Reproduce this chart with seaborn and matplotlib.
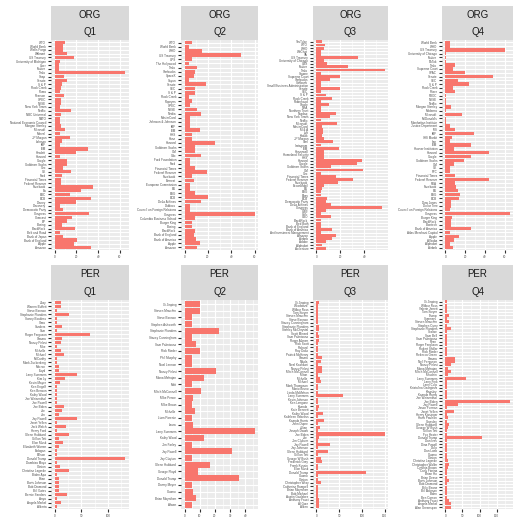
import matplotlib
matplotlib.use("Agg")
import matplotlib.pyplot as plt
from matplotlib.patches import Rectangle
from matplotlib.ticker import FixedLocator
import seaborn as sns
import pandas as pd

# ---------------- data (top-to-bottom order as shown) ----------------
org_q1_names = ["WTO", "World Bank", "Wells Fargo", "Walmart", "US Treasury", "University of Michigan",
                "Uber", "Twitter", "Tesla", "Snap", "Senate", "S & P", "Rock Creek", "Puma", "Pearson",
                "OPEC", "NYSE", "New York Times", "Netflix", "NBC Universal", "NATO",
                "National Economic Council", "Morgan Stanley", "Microsoft", "Marvel", "JP Morgan",
                "Lehman", "IMF", "IBM", "Hewlett", "Harvard", "Google", "Goldman Sachs", "Gec", "GE",
                "Ford", "Financial Times", "Federal Reserve", "Facebook", "Eu", "EBC", "ECB", "Disney",
                "Discovery", "Democratic Party", "Congress", "Comcast", "BP", "Boeing", "BlackRock",
                "Belt and Road", "Bank of Japan", "Bank of England", "Apple", "Amazon"]
org_q1_vals = [10, 7.5, 7.5, 11, 18, 5, 4, 4, 65, 9, 11, 7, 6, 5, 9,
               6, 6, 5, 15, 6, 5, 5, 6, 10, 5, 14,
               7, 5, 31, 20, 5, 11, 11, 7.5, 15,
               7, 6, 6, 35, 24, 14, 33, 20,
               5, 7.5, 32, 16, 11, 7, 19,
               5, 7.5, 21, 18, 33]

org_q2_names = ["WTO", "World Bank", "WHO", "US Treasury", "UPS", "The Hollywood", "Tesla", "Starbucks",
                "SpaceX", "Sayun", "Senate", "SEC", "S & P", "Rock Creek", "Popeyes", "OPEC", "NYSE",
                "Nvidia", "MasterCard", "Johnson & Johnson", "IMF", "IBM", "HHS", "Hanz", "Harvard",
                "Goldman Sachs", "GM", "Gdc", "Ford Foundation", "Ford", "Financial Times",
                "Federal Reserve", "Facebook", "Everest", "European Commission", "EU", "ESG", "ECB",
                "Delta Airlines", "Dabloos", "Council on Foreign Relations", "Congress",
                "Columbia Business School", "Burger King", "Boeing", "BlackRock", "Bank of England",
                "Bank of America", "Apple", "Amazon"]
org_q2_vals = [6, 4, 15, 48, 6, 4, 11, 9,
               8, 4, 18, 9, 9, 4, 6, 5, 11,
               14, 5, 5, 5, 13, 6, 6, 26,
               9, 9, 14, 5, 5, 9,
               19, 6, 8, 5, 5, 9, 20,
               14, 5, 5, 60,
               9, 6, 6, 9, 8,
               10, 13, 11]

org_q3_names = ["YouTube", "WTO", "WHO", "WeChat", "VA", "US Treasury", "University of Chicago", "UBS",
                "Twitter", "Tesla", "Square", "Supreme Court", "Starbucks", "Softbank",
                "Small Business Administration", "Senate", "SEC", "S & P", "Rock Creek", "Robinhood",
                "Oracle", "NRA", "Northern Trust", "Nasdaq", "New York Times", "Netflix", "Microsoft",
                "MasterCard", "M & A", "Lyft", "Kodak", "JP Morgan", "Intel", "Instagram", "IBM",
                "Honeywell", "Homeland Security", "HHS", "Harvard", "Google", "Goldman Sachs", "GM",
                "Gec", "Financial Times", "Federal Reserve", "Facebook", "ExxonMobil", "EU", "ESG",
                "Ebay", "ECB", "Democratic Party", "Delta Airlines", "Congress", "CNN", "CDC", "CBO",
                "BlackRock", "Bed Bath", "Bank of England", "Bank of America",
                "Ant Investment Management", "Amazon", "Airbnb", "Adobe", "Alphabet", "Accenture"]
org_q3_vals = [5, 7, 6, 4, 4, 35, 6, 9,
               26, 57, 4, 20, 11.5, 4,
               4, 19.5, 4, 8, 13, 4,
               10.7, 4, 4, 16, 11.5, 4, 17.6,
               5, 5.6, 5.6, 5, 6, 14, 4, 19,
               6, 6, 6, 38, 34, 12, 39,
               4, 16, 30.7, 17.9, 6, 5, 4,
               4, 8.8, 8, 12, 54.5, 8, 4, 12,
               4, 4, 4, 12.8,
               4, 16, 12.8, 8, 5, 8]

org_q4_names = ["World Bank", "WHO", "US Treasury", "University of Chicago", "Twitter", "TikTok",
                "Tesla", "Supreme Court", "SPAC", "Senate", "SEC", "S & P", "Rock Creek", "Pfizer",
                "PBOC", "NYSE", "Netflix", "Morgan Stanley", "Moderna", "Microsoft", "McDonald's",
                "Manhattan Institute", "Justice Department", "IRS", "IMF", "IHS Markit", "Iran", "IBM",
                "Hoover Institution", "Harvard", "Google", "Goldman Sachs", "GM", "GE", "FTC",
                "Financial Times", "Federal Reserve", "FDA", "Facebook", "EU", "ESG", "ECB",
                "Dow Jones", "Dollar Tree", "Council on Foreign Relations", "Congress", "Burger King",
                "BlackRock", "Biontech", "Bank of America", "Atlas Merchant Capital", "Apple",
                "Alibaba", "Alphabet", "Airbnb"]
org_q4_vals = [4.5, 4.5, 60, 1, 1, 1,
               10, 8, 20, 48, 12.6, 24, 8, 10,
               1, 1, 1, 5.5, 1, 17, 1,
               1, 4.5, 10, 29, 6.5, 4.5, 26,
               9, 44, 26, 19, 9, 4.5, 4.5,
               10, 44, 10, 11, 12.6, 15, 13.5,
               5.5, 5.5, 4.5, 65, 6.5,
               5.5, 5.5, 26, 4.5, 13.5,
               9, 4.5, 8]

per_q1_names = ["Zuzy", "Warren Buffett", "Steve Bannon", "Stephanie Flanders", "Sonny Boatless", "Sima",
                "Sanders", "Sam", "Roger Ferguson", "Obama", "Nancy Pelosi", "Mike", "Michelle",
                "Michael", "McCarthy", "Mark Zuckerberg", "Macron", "Lloyd", "Larry Summers", "Kim Ly",
                "Kevin Mayer", "Ken Engelf", "Ken Benson", "Kathy Wood", "Joe Weisenthal", "Joe Powell",
                "Joe Biden", "Joe", "Jon", "Jay Powell", "Janet Yellen", "Jack Welch", "Henry Ford",
                "Glenn Hubbard", "Gillian Tett", "Elon Musk", "Elizabeth Warren", "Erdogan", "Ellison",
                "Donald Trump", "Dambisa Moyo", "Clinton", "Christine Lagarde", "Biden Apa", "Brian",
                "Boris Johnson", "Bob Diamond", "Bill Gates", "Bernie Sanders", "Anya",
                "Angela Merkel", "Alberta"]
per_q1_vals = [12, 12, 5, 27, 5, 5,
               14, 5, 66, 14, 12, 5, 12,
               18, 5, 5, 8, 8, 43, 20,
               10, 5, 5, 5, 5, 5,
               18, 14, 8, 43, 5, 21, 5,
               27, 8, 16, 8, 5, 5,
               133, 5, 10, 27, 5, 8,
               8, 8, 8, 23, 5,
               12, 5]

per_q2_names = ["Xi Jinping", "Steven Mnuchin", "Steve Bannon", "Stephen Ashworth", "Stephanie Flanders",
                "Stacey Cunningham", "Sam Palmisano", "Rick Rieder", "Phil Murphy", "Noel Lennon",
                "Nancy Pelosi", "Mona Mahajan", "Matt", "Mitch McConnell", "Mike Pence", "Mike Braun",
                "Michelle", "Liam Parente", "Laura", "Larry Summers", "Kathy Wood", "Jim Farley",
                "Jay Powell", "Jay Clayton", "Glenn Hubbard", "George Floyd", "Donald Trump",
                "Danny Meyer", "Cuomo", "Brian Moynihan", "Alwen"]
per_q2_vals = [10.4, 10, 5, 5, 22.6,
               5, 7.4, 10, 5, 5,
               20.7, 12.5, 5, 10.6, 5.5, 5,
               6.8, 5, 5.5, 46, 12.5, 5,
               31, 5, 17, 8.7, 36,
               5, 5.5, 7.4, 5]

per_q3_names = ["Xi Jinping", "Woodward", "Wilbur Ross", "Tom Steyer", "Steven Mnuchin", "Steve Bannon",
                "Stacey Cunningham", "Stephanie Flanders", "Stanley McChrystal", "Scott Minerd",
                "Sam Palmisano", "Roger Altman", "Rick Scott", "Richard", "Ray Dalio", "Patrick McHenry",
                "Obama", "Nikola", "Neel Kashkari", "Nancy Pelosi", "Mitch McConnell", "Milton",
                "Michelle", "Michael", "Mark Thompson", "Mario Bruno", "Linda McMahon", "Larry Summers",
                "Kevin Johnson", "Ken Langone", "Kamala", "Kate Bennett", "Kathy Wood",
                "Kathleen Sebelius", "Kamala Harris", "John Dupre", "Julian", "Joseph Dwork",
                "Joe Biden", "Joe", "Jim Clyburn", "Jay Powell", "Jay Johnson", "Glenn Hubbard",
                "Gillian Tett", "George W Bush", "Frederick Gray", "Frank Kussin", "Elon Musk",
                "Donald Trump", "Cuomo", "Clinton", "Christopher Wray", "Catherine Rampell",
                "Brian Moynihan", "Bob Michael", "Austin Goolsbee", "Anthony Fauci", "Al Gore", "Alben"]
per_q3_vals = [6, 3.5, 3.5, 3.5, 3.5, 3.5,
               3.5, 5.5, 5.5, 3.5,
               6, 5.5, 3.5, 3.5, 3.5, 3.5,
               12.4, 10, 3.5, 12.4, 12.4, 3.5,
               8, 10, 3.5, 3.5, 3.5, 59,
               3.5, 3.5, 5.5, 3.5, 15,
               3.5, 17, 3.5, 8, 3.5,
               150, 5.5, 3.5, 29, 3.5, 25.5,
               3.5, 10, 12.4, 3.5, 3.5,
               108, 3.5, 3.5, 10, 3.5,
               3.5, 3.5, 3.5, 5.5, 5.5, 5.5]

per_q4_names = ["Xi Jinping", "Wilbur Ross", "Valerie Jarrett", "Tom Steyer", "Trump", "Summers",
                "Steven Mnuchin", "Stephen Curry", "Stephanie Flanders", "Scalise", "Sam Bell",
                "Sam Palmisano", "Ryan", "Roger Ferguson", "Robert Shiller", "Rick Rieder",
                "Rebecca Green", "Obama", "Neil Ferguson", "Nancy Pelosi", "Mona Mahajan",
                "Mitch McConnell", "Mnuchin", "Larry Summers", "Larry Fink", "Larry Culp",
                "Kristalina Georgieva", "Kingsley", "Kamala Harris", "Joe Weisenthal", "Joe Biden",
                "Jay Powell", "Jason Furman", "Janet Yellen", "Henry Kissinger", "Hank Paulson",
                "Grassley", "Glenn Hubbard", "George W Bush", "Gillian Tett", "Fox Hester",
                "Donald Trump", "Dan Ives", "Dina Powell", "Dalio", "Dan Loeb", "Cuomo", "Clinton",
                "Christine Lagarde", "Christopher Waller", "Cynthia Brown", "Carly Fiorina", "Brian Ho",
                "Brian Deese", "Boris Johnson", "Bob Diamond", "Billy Beane", "Bill Ackman", "Biden",
                "Ben Carson", "Anthony Fauci", "Angela Merkel", "Alan Greenspan"]
per_q4_vals = [6, 5, 5, 5, 12, 5,
               12, 5, 16, 6, 6,
               6, 6, 6, 6, 5,
               5, 28, 28, 16, 8,
               16, 8, 60, 5, 5,
               5, 5, 5, 5, 188,
               36, 5, 27, 5, 8,
               5, 12, 8, 5, 5,
               108, 5, 5, 5, 5, 6, 5,
               8, 10, 8, 6, 5,
               5, 10, 6, 6, 5, 5,
               5, 10, 16, 16]

facet_type = ["ORG", "ORG", "ORG", "ORG", "PER", "PER", "PER", "PER"]
facet_quarter = ["Q1", "Q2", "Q3", "Q4", "Q1", "Q2", "Q3", "Q4"]
panel_names = [org_q1_names, org_q2_names, org_q3_names, org_q4_names,
               per_q1_names, per_q2_names, per_q3_names, per_q4_names]
panel_vals = [org_q1_vals, org_q2_vals, org_q3_vals, org_q4_vals,
              per_q1_vals, per_q2_vals, per_q3_vals, per_q4_vals]
x_breaks = [[0, 20, 40, 60], [0, 20, 40, 60], [0, 20, 40], [0, 20, 40, 60],
            [0, 50, 100], [0, 10, 20, 30, 40], [0, 50, 100, 150], [0, 50, 100, 150]]

# ---------------- layout ----------------
W, H = 514, 521
fig = plt.figure(figsize=(W / 100, H / 100), dpi=100)
fig.patch.set_facecolor("white")
plt.rcParams["font.family"] = ["Liberation Sans", "DejaVu Sans"]

col_x = [(51, 129), (181, 258), (313, 388), (442, 513)]
row_y = [(6, 40, 250), (265, 300, 509)]  # strip top, panel top, panel bottom

BAR = "#F8766D"
for i in range(8):
    r, c = divmod(i, 4)
    x0, x1 = col_x[c]
    st, pt, pb = row_y[r]
    ax = fig.add_axes([x0 / W, 1 - pb / H, (x1 - x0) / W, (pb - pt) / H])
    df = pd.DataFrame({"name": panel_names[i], "n": panel_vals[i]})
    sns.barplot(data=df, x="n", y="name", order=panel_names[i], color=BAR,
                saturation=1, width=0.9, orient="h", ax=ax, errorbar=None, zorder=3)
    n = len(panel_names[i])
    vmax = max(panel_vals[i])
    ax.set_xlim(-0.05 * vmax, 1.05 * vmax)
    ax.set_ylim(n - 0.4, -0.6)
    ax.set_facecolor("#EBEBEB")
    for s in ax.spines.values():
        s.set_visible(False)
    br = x_breaks[i]
    ax.xaxis.set_major_locator(FixedLocator(br))
    step = br[1] - br[0]
    minors = [b + step / 2 for b in br] + [br[0] - step / 2]
    ax.xaxis.set_minor_locator(FixedLocator(minors))
    ax.set_xticklabels([str(b) for b in br])
    ax.grid(True, which="major", axis="both", color="white", linewidth=0.8, zorder=0)
    ax.grid(True, which="minor", axis="x", color="white", linewidth=0.4, zorder=0)
    ax.set_axisbelow(True)
    ax.tick_params(axis="both", which="major", length=2.0, width=0.8, color="#333333",
                   labelsize=2.2, labelcolor="#4D4D4D", pad=1.5)
    ax.tick_params(axis="both", which="minor", length=0)
    ax.set_xlabel("")
    ax.set_ylabel("")
    # strip
    fig.patches.append(Rectangle((x0 / W, 1 - pt / H), (x1 - x0) / W, (pt - st) / H,
                                 transform=fig.transFigure, facecolor="#D9D9D9",
                                 edgecolor="none", zorder=0))
    mid = (st + pt) / 2
    fig.text((x0 + x1) / 2 / W, 1 - (st + (mid - st) / 2 + 0.5) / H, facet_type[i],
             ha="center", va="center", fontsize=7, color="#1A1A1A")
    fig.text((x0 + x1) / 2 / W, 1 - (mid + (pt - mid) / 2 + 0.5) / H, facet_quarter[i],
             ha="center", va="center", fontsize=7, color="#1A1A1A")

fig.savefig("out.png", dpi=100, facecolor="white")
